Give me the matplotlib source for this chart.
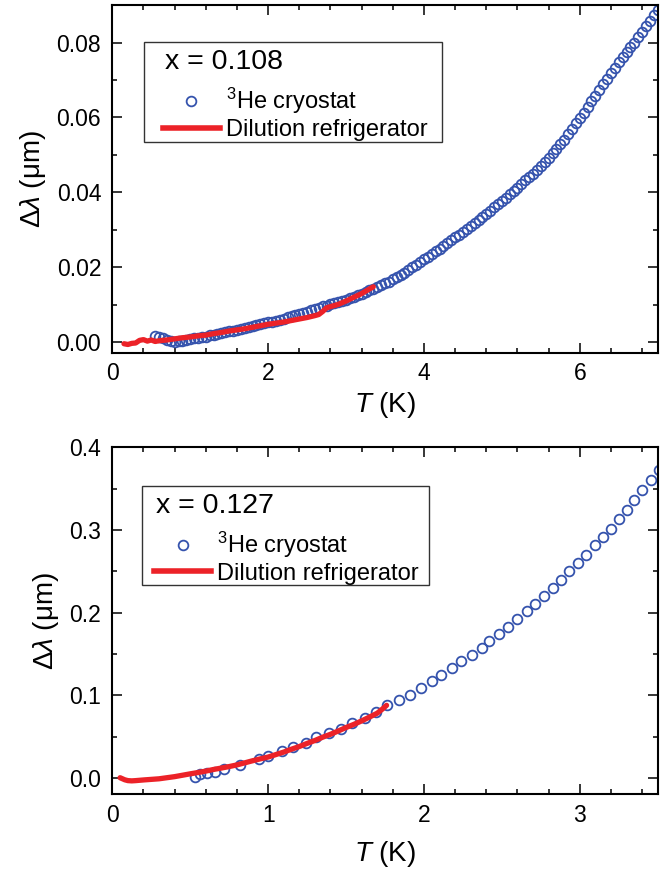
import matplotlib
matplotlib.use('Agg')
import matplotlib.pyplot as plt
from matplotlib.lines import Line2D
from matplotlib.patches import Rectangle
from matplotlib.ticker import MultipleLocator, FormatStrFormatter

plt.rcParams['font.family'] = ['Liberation Sans', 'DejaVu Sans']
plt.rcParams['mathtext.fontset'] = 'custom'
plt.rcParams['mathtext.rm'] = 'Liberation Sans'
plt.rcParams['mathtext.it'] = 'Liberation Sans:italic'

# --- data: x = 0.108 ---
t_he_a = [0.55, 0.60, 0.65, 0.70, 0.75, 0.80, 0.85, 0.90, 0.95, 1.00,
          1.05, 1.10, 1.15, 1.20, 1.25, 1.30, 1.35, 1.40, 1.45, 1.50,
          1.55, 1.60, 1.65, 1.70, 1.75, 1.80, 1.85, 1.90, 1.95, 2.00,
          2.05, 2.10, 2.15, 2.20, 2.25, 2.30, 2.35, 2.40, 2.45, 2.50,
          2.55, 2.60, 2.65, 2.70, 2.75, 2.80, 2.85, 2.90, 2.95, 3.00,
          3.05, 3.10, 3.15, 3.20, 3.25, 3.30, 3.35, 3.40, 3.45, 3.50,
          3.55, 3.60, 3.65, 3.70, 3.75, 3.80, 3.85, 3.90, 3.95, 4.00,
          4.05, 4.10, 4.15, 4.20, 4.25, 4.30, 4.35, 4.40, 4.45, 4.50,
          4.55, 4.60, 4.65, 4.70, 4.75, 4.80, 4.85, 4.90, 4.95, 5.00,
          5.05, 5.10, 5.15, 5.20, 5.25, 5.30, 5.35, 5.40, 5.45, 5.50,
          5.55, 5.60, 5.65, 5.70, 5.75, 5.80, 5.85, 5.90, 5.95, 6.00,
          6.05, 6.10, 6.15, 6.20, 6.25, 6.30, 6.35, 6.40, 6.45, 6.50,
          6.55, 6.60, 6.65, 6.70, 6.75, 6.80, 6.85, 6.90, 6.95, 7.00]
dl_he_a = [0.0016, 0.0015, 0.0010, 0.0006, 0.0003, 0.0001, 0.0002, 0.0004, 0.0005, 0.0008,
           0.0010, 0.0011, 0.0014, 0.0015, 0.0018, 0.0019, 0.0022, 0.0024, 0.0026, 0.0029,
           0.0030, 0.0033, 0.0036, 0.0038, 0.0041, 0.0043, 0.0046, 0.0048, 0.0051, 0.0053,
           0.0055, 0.0058, 0.0060, 0.0063, 0.0067, 0.0070, 0.0072, 0.0076, 0.0079, 0.0082,
           0.0085, 0.0089, 0.0092, 0.0096, 0.0098, 0.0101, 0.0105, 0.0108, 0.0111, 0.0114,
           0.0118, 0.0122, 0.0126, 0.0130, 0.0134, 0.0139, 0.0143, 0.0148, 0.0152, 0.0157,
           0.0162, 0.0168, 0.0174, 0.0180, 0.0186, 0.0193, 0.0200, 0.0207, 0.0213, 0.0221,
           0.0228, 0.0236, 0.0243, 0.0250, 0.0257, 0.0265, 0.0272, 0.0280, 0.0287, 0.0295,
           0.0303, 0.0311, 0.0318, 0.0326, 0.0334, 0.0343, 0.0351, 0.0360, 0.0369, 0.0378,
           0.0386, 0.0395, 0.0403, 0.0412, 0.0422, 0.0432, 0.0440, 0.0448, 0.0459, 0.0470,
           0.0481, 0.0492, 0.0504, 0.0516, 0.0528, 0.0541, 0.0555, 0.0570, 0.0584, 0.0598,
           0.0612, 0.0627, 0.0643, 0.0658, 0.0673, 0.0688, 0.0703, 0.0718, 0.0733, 0.0748,
           0.0762, 0.0775, 0.0788, 0.0800, 0.0815, 0.0829, 0.0844, 0.0858, 0.0873, 0.0888]

t_dr_a = [0.15, 0.20, 0.25, 0.30, 0.35, 0.40, 0.45, 0.50, 0.55, 0.60,
          0.70, 0.80, 0.90, 1.00, 1.10, 1.20, 1.30, 1.40, 1.50, 1.60,
          1.70, 1.80, 1.90, 2.00, 2.10, 2.20, 2.30, 2.40, 2.50, 2.60,
          2.65, 2.70, 2.75, 2.80, 2.90, 3.00, 3.10, 3.20, 3.30, 3.35]
dl_dr_a = [-0.0004, -0.0006, -0.0003, -0.0002, 0.0005, 0.0007, 0.0003, 0.0006, 0.0002, 0.0004,
           0.0006, 0.0009, 0.0012, 0.0014, 0.0017, 0.0019, 0.0023, 0.0026, 0.0030, 0.0033,
           0.0036, 0.0040, 0.0044, 0.0048, 0.0051, 0.0054, 0.0058, 0.0062, 0.0066, 0.0071,
           0.0074, 0.0082, 0.0092, 0.0095, 0.0101, 0.0110, 0.0120, 0.0130, 0.0142, 0.0148]

# --- data: x = 0.127 ---
t_he_b = [0.53, 0.56, 0.61, 0.66, 0.72, 0.82, 0.94, 1.00, 1.09, 1.16,
          1.24, 1.31, 1.39, 1.47, 1.54, 1.62, 1.69, 1.76, 1.84, 1.91,
          1.98, 2.05, 2.11, 2.18, 2.24, 2.31, 2.37, 2.42, 2.48, 2.54,
          2.60, 2.66, 2.71, 2.77, 2.83, 2.88, 2.93, 2.99, 3.04, 3.10,
          3.15, 3.20, 3.25, 3.30, 3.35, 3.40, 3.46, 3.51]
dl_he_b = [0.0019, 0.0048, 0.0060, 0.0076, 0.0109, 0.0160, 0.0230, 0.0265, 0.0330, 0.0380,
           0.0420, 0.0496, 0.0545, 0.0600, 0.0665, 0.0726, 0.0803, 0.0880, 0.0940, 0.1008,
           0.1090, 0.1175, 0.1243, 0.1328, 0.1413, 0.1490, 0.1570, 0.1655, 0.1740, 0.1833,
           0.1926, 0.2019, 0.2107, 0.2208, 0.2301, 0.2394, 0.2499, 0.2604, 0.2701, 0.2814,
           0.2911, 0.3016, 0.3137, 0.3242, 0.3363, 0.3484, 0.3605, 0.3730]

t_dr_b = [0.05, 0.08, 0.10, 0.125, 0.15, 0.20, 0.25, 0.30, 0.35, 0.40,
          0.45, 0.50, 0.55, 0.60, 0.65, 0.70, 0.75, 0.80, 0.85, 0.90,
          0.95, 1.00, 1.05, 1.10, 1.15, 1.20, 1.25, 1.30, 1.35, 1.40,
          1.45, 1.50, 1.55, 1.60, 1.65, 1.70, 1.73, 1.76]
dl_dr_b = [0.0005, -0.0020, -0.0030, -0.0033, -0.0030, -0.0022, -0.0015, -0.0008, 0.0005, 0.0018,
           0.0035, 0.0052, 0.0068, 0.0085, 0.0105, 0.0122, 0.0140, 0.0160, 0.0185, 0.0210,
           0.0233, 0.0255, 0.0285, 0.0315, 0.0350, 0.0382, 0.0420, 0.0455, 0.0495, 0.0530,
           0.0570, 0.0612, 0.0650, 0.0692, 0.0738, 0.0785, 0.0830, 0.0880]

BLUE = '#3553ad'
RED = '#ec2228'
MS = 7
MEW = 1.3


def style_axes(ax, xmaj, xmin, ymaj, ymin, yfmt, xpad):
    ax.xaxis.set_major_locator(MultipleLocator(xmaj))
    ax.xaxis.set_minor_locator(MultipleLocator(xmin))
    ax.yaxis.set_major_locator(MultipleLocator(ymaj))
    ax.yaxis.set_minor_locator(MultipleLocator(ymin))
    ax.yaxis.set_major_formatter(FormatStrFormatter(yfmt))
    ax.tick_params(which='both', direction='in', top=True, right=True, width=1.1)
    ax.tick_params(which='major', length=7, labelsize=16.5)
    ax.tick_params(which='minor', length=3.6)
    ax.tick_params(axis='x', pad=7)
    ax.tick_params(axis='y', pad=8)
    for s in ax.spines.values():
        s.set_linewidth(1.5)
    ax.set_xlabel(r'$T$ (K)', fontsize=20, labelpad=xpad)
    ax.set_ylabel(r'$\mathit{\Delta\lambda}$ (μm)', fontsize=20, labelpad=6)


def add_legend(ax, title, box, title_xy, anchor):
    # box: (x0, y0, x1, y1) in axes fraction
    ax.add_patch(Rectangle((box[0], box[1]), box[2] - box[0], box[3] - box[1],
                           transform=ax.transAxes, facecolor='white',
                           edgecolor='#333333', lw=1.0, zorder=4.5))
    ax.text(title_xy[0], title_xy[1], title, transform=ax.transAxes,
            fontsize=20.5, ha='left', va='center', zorder=6)
    handles = [Line2D([], [], ls='none', marker='o', ms=MS, mfc='none', mec=BLUE, mew=MEW),
               Line2D([], [], color=RED, lw=4)]
    labels = [r'$^{3}$He cryostat', 'Dilution refrigerator']
    leg = ax.legend(handles, labels, loc='upper left', bbox_to_anchor=anchor,
                    borderaxespad=0, borderpad=0, frameon=False, fontsize=17,
                    handlelength=2.4, handletextpad=0.25, labelspacing=0.12)
    leg.set_zorder(6)


fig = plt.figure(figsize=(6.68, 8.69), dpi=100)
ax1 = fig.add_axes([0.1681, 0.5941, 0.8165, 0.4001])
ax2 = fig.add_axes([0.1681, 0.0860, 0.8165, 0.3993])

ax1.plot(t_he_a, dl_he_a, ls='none', marker='o', ms=MS, mfc='none', mec=BLUE, mew=MEW)
ax1.plot(t_dr_a, dl_dr_a, color=RED, lw=3.8, solid_capstyle='round')
ax1.set_xlim(0, 7)
ax1.set_ylim(-0.0028, 0.09)
style_axes(ax1, 2, 0.4, 0.02, 0.01, '%.2f', 3)
add_legend(ax1, 'x = 0.108', (0.058, 0.6068, 0.6036, 0.8927), (0.0966, 0.836), (0.093, 0.767))

ax2.plot(t_he_b, dl_he_b, ls='none', marker='o', ms=MS, mfc='none', mec=BLUE, mew=MEW)
ax2.plot(t_dr_b, dl_dr_b, color=RED, lw=3.8, solid_capstyle='round')
ax2.set_xlim(0, 3.5)
ax2.set_ylim(-0.0195, 0.4)
style_axes(ax2, 1, 0.2, 0.1, 0.05, '%.1f', 9)
add_legend(ax2, 'x = 0.127', (0.0539, 0.6032, 0.5803, 0.8893), (0.0805, 0.8308), (0.0772, 0.7625))

fig.savefig('out.png', dpi=100)
